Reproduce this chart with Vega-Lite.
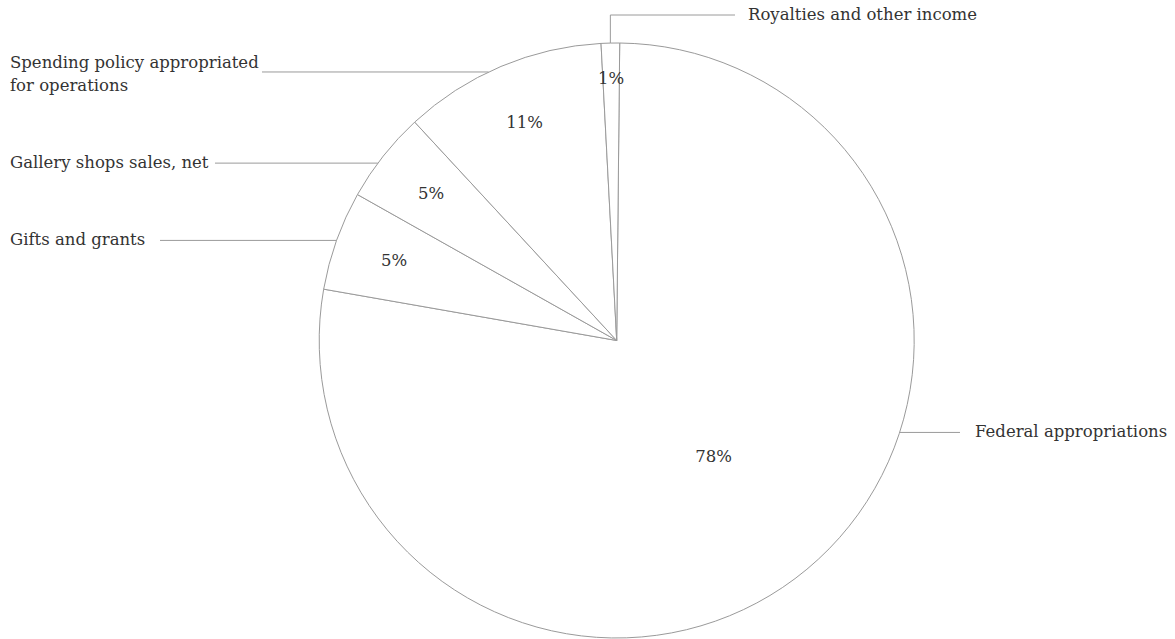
{
  "$schema": "https://vega.github.io/schema/vega-lite/v6.json",
  "width": 1175,
  "height": 639,
  "autosize": "none",
  "padding": 0,
  "background": "white",
  "config": {"view": {"stroke": null}, "text": {"font": "DejaVu Serif", "fontSize": 16.5, "fill": "#333333"}},
  "data": {
    "values": [
      {"category": "Federal appropriations", "value": 77.6},
      {"category": "Gifts and grants", "value": 5.4},
      {"category": "Gallery shops sales, net", "value": 4.96},
      {"category": "Spending policy appropriated for operations", "value": 11.04},
      {"category": "Royalties and other income", "value": 1.0}
    ]
  },
  "transform": [
    {"window": [{"op": "sum", "field": "value", "as": "cum"}], "frame": [null, 0]},
    {"joinaggregate": [{"op": "sum", "field": "value", "as": "total"}]},
    {"calculate": "datum.value / datum.total", "as": "share"},
    {"calculate": "0.0101 + 2 * PI * (datum.cum - datum.value / 2) / datum.total", "as": "mid"},
    {"calculate": "datum.share > 0.5 ? 0.51 : (datum.share < 0.02 ? 0.88 : 0.795)", "as": "lr"},
    {"calculate": "datum.lr * sin(datum.mid)", "as": "px"},
    {"calculate": "datum.lr * cos(datum.mid)", "as": "py"},
    {"calculate": "datum.category == 'Federal appropriations' ? 108 * PI / 180 : (datum.category == 'Spending policy appropriated for operations' ? 334.5 * PI / 180 : (datum.category == 'Gallery shops sales, net' ? 306.6 * PI / 180 : datum.mid))", "as": "aa"},
    {"calculate": "sin(datum.aa)", "as": "ex"},
    {"calculate": "cos(datum.aa)", "as": "ey"},
    {"calculate": "datum.category == 'Royalties and other income' ? 1.0941 : datum.ey", "as": "ly"},
    {"calculate": "{'Federal appropriations': 1.1539, 'Gifts and grants': -1.5351, 'Gallery shops sales, net': -1.3503, 'Spending policy appropriated for operations': -1.1923, 'Royalties and other income': 0.3976}[datum.category]", "as": "lx"},
    {"calculate": "datum.ex < 0 && datum.category != 'Royalties and other income' ? -2.0393 : (datum.category == 'Royalties and other income' ? 0.4413 : 1.2044)", "as": "tx"},
    {"calculate": "replace(datum.category, 'appropriated ', 'appropriated\\n')", "as": "label"},
    {"calculate": "indexof(datum.label, '\\n') >= 0 ? datum.ly + 0.03 : datum.ly", "as": "ty"}
  ],
  "layer": [
    {
      "mark": {"type": "arc", "radius": 297.5, "fill": "white", "stroke": "#9a9a9a", "strokeWidth": 1},
      "encoding": {
        "theta": {"field": "value", "type": "quantitative", "stack": true, "scale": {"range": [0.0101, 6.2933]}},
        "x": {"datum": 0, "type": "quantitative", "scale": {"domain": [-2.07294, 1.87664], "nice": false, "zero": false}, "axis": null},
        "y": {"datum": 0, "type": "quantitative", "scale": {"domain": [-1.00336, 1.14454], "nice": false, "zero": false}, "axis": null}
      }
    },
    {
      "mark": {"type": "rule", "stroke": "#9a9a9a", "strokeWidth": 1},
      "encoding": {
        "x": {"field": "ex", "type": "quantitative", "scale": {"domain": [-2.07294, 1.87664], "nice": false, "zero": false}, "axis": null},
        "y": {"field": "ly", "type": "quantitative", "scale": {"domain": [-1.00336, 1.14454], "nice": false, "zero": false}, "axis": null},
        "x2": {"field": "lx"},
        "y2": {"field": "ly"}
      }
    },
    {
      "mark": {"type": "rule", "stroke": "#9a9a9a", "strokeWidth": 1},
      "encoding": {
        "x": {"field": "ex", "type": "quantitative", "scale": {"domain": [-2.07294, 1.87664], "nice": false, "zero": false}, "axis": null},
        "y": {"field": "ey", "type": "quantitative", "scale": {"domain": [-1.00336, 1.14454], "nice": false, "zero": false}, "axis": null},
        "x2": {"field": "ex"},
        "y2": {"field": "ly"}
      }
    },
    {
      "mark": {"type": "text", "align": "center", "baseline": "middle"},
      "encoding": {
        "x": {"field": "px", "type": "quantitative", "scale": {"domain": [-2.07294, 1.87664], "nice": false, "zero": false}, "axis": null},
        "y": {"field": "py", "type": "quantitative", "scale": {"domain": [-1.00336, 1.14454], "nice": false, "zero": false}, "axis": null},
        "text": {"field": "share", "type": "quantitative", "format": ".0%"}
      }
    },
    {
      "mark": {"type": "text", "align": "left", "baseline": "middle", "lineBreak": "\n", "lineHeight": 23},
      "encoding": {
        "x": {"field": "tx", "type": "quantitative", "scale": {"domain": [-2.07294, 1.87664], "nice": false, "zero": false}, "axis": null},
        "y": {"field": "ty", "type": "quantitative", "scale": {"domain": [-1.00336, 1.14454], "nice": false, "zero": false}, "axis": null},
        "text": {"field": "label"}
      }
    }
  ]
}
